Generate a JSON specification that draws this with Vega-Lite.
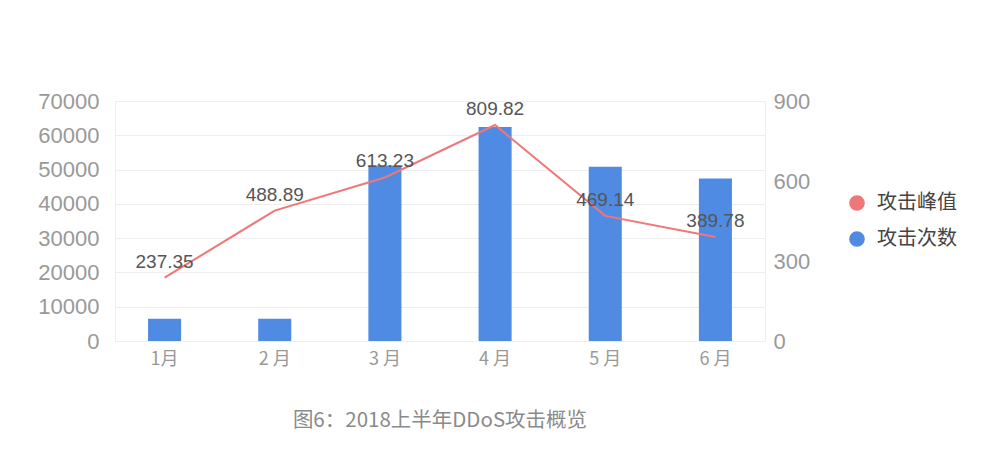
{
  "$schema": "https://vega.github.io/schema/vega-lite/v6.json",
  "background": "#ffffff",
  "width": 650,
  "height": 240,
  "padding": {"left": 37, "top": 90, "right": 10, "bottom": 10},
  "title": {
    "text": "图6：2018上半年DDoS攻击概览",
    "orient": "bottom",
    "anchor": "middle",
    "offset": 43,
    "fontSize": 20.5,
    "fontWeight": "normal",
    "color": "#8a8a8a",
    "font": "Noto Sans CJK SC"
  },
  "config": {
    "font": "Liberation Sans",
    "view": {"stroke": "#eeeeee"}
  },
  "data": {
    "values": [
      {"month": "1月", "attacks": 6500, "peak": 237.35},
      {"month": "2 月", "attacks": 6500, "peak": 488.89},
      {"month": "3 月", "attacks": 51200, "peak": 613.23},
      {"month": "4 月", "attacks": 62400, "peak": 809.82},
      {"month": "5 月", "attacks": 50800, "peak": 469.14},
      {"month": "6 月", "attacks": 47400, "peak": 389.78}
    ]
  },
  "encoding": {
    "x": {
      "field": "month",
      "type": "ordinal",
      "sort": null,
      "scale": {"paddingInner": 0.7, "paddingOuter": 0.3},
      "axis": {
        "title": null,
        "labelAngle": 0,
        "labelFontSize": 18,
        "labelColor": "#999999",
        "labelFont": "Noto Sans CJK SC",
        "labelPadding": 9,
        "ticks": false,
        "domain": false
      }
    }
  },
  "layer": [
    {
      "mark": {"type": "bar"},
      "encoding": {
        "y": {
          "field": "attacks",
          "type": "quantitative",
          "scale": {"domain": [0, 70000]},
          "axis": {
            "title": null,
            "format": "d",
            "values": [0, 10000, 20000, 30000, 40000, 50000, 60000, 70000],
            "labelFontSize": 22,
            "labelColor": "#999999",
            "labelPadding": 16,
            "ticks": false,
            "domain": false,
            "gridColor": "#eeeeee"
          }
        },
        "color": {
          "datum": "攻击次数",
          "type": "nominal",
          "scale": {"domain": ["攻击峰值", "攻击次数"], "range": ["#f07678", "#4f8be3"]},
          "legend": {
            "title": null,
            "orient": "none",
            "legendX": 732,
            "legendY": 92,
            "symbolType": "circle",
            "symbolSize": 200,
            "labelFontSize": 20,
            "labelColor": "#444444",
            "labelFont": "Noto Sans CJK SC",
            "labelOffset": 10,
            "rowPadding": 14,
            "padding": 0
          }
        }
      }
    },
    {
      "layer": [
        {
          "mark": {"type": "line", "strokeWidth": 2},
          "encoding": {
            "color": {"datum": "攻击峰值", "type": "nominal"}
          }
        },
        {
          "mark": {"type": "text", "dy": -16, "fontSize": 19, "color": "#555555"},
          "encoding": {
            "text": {"field": "peak", "type": "quantitative", "format": ".2f"}
          }
        }
      ],
      "encoding": {
        "y": {
          "field": "peak",
          "type": "quantitative",
          "scale": {"domain": [0, 900]},
          "axis": {
            "title": null,
            "orient": "right",
            "values": [0, 300, 600, 900],
            "labelFontSize": 22,
            "labelColor": "#999999",
            "labelPadding": 8,
            "ticks": false,
            "domain": false,
            "grid": false
          }
        }
      }
    }
  ],
  "resolve": {"scale": {"y": "independent"}}
}
